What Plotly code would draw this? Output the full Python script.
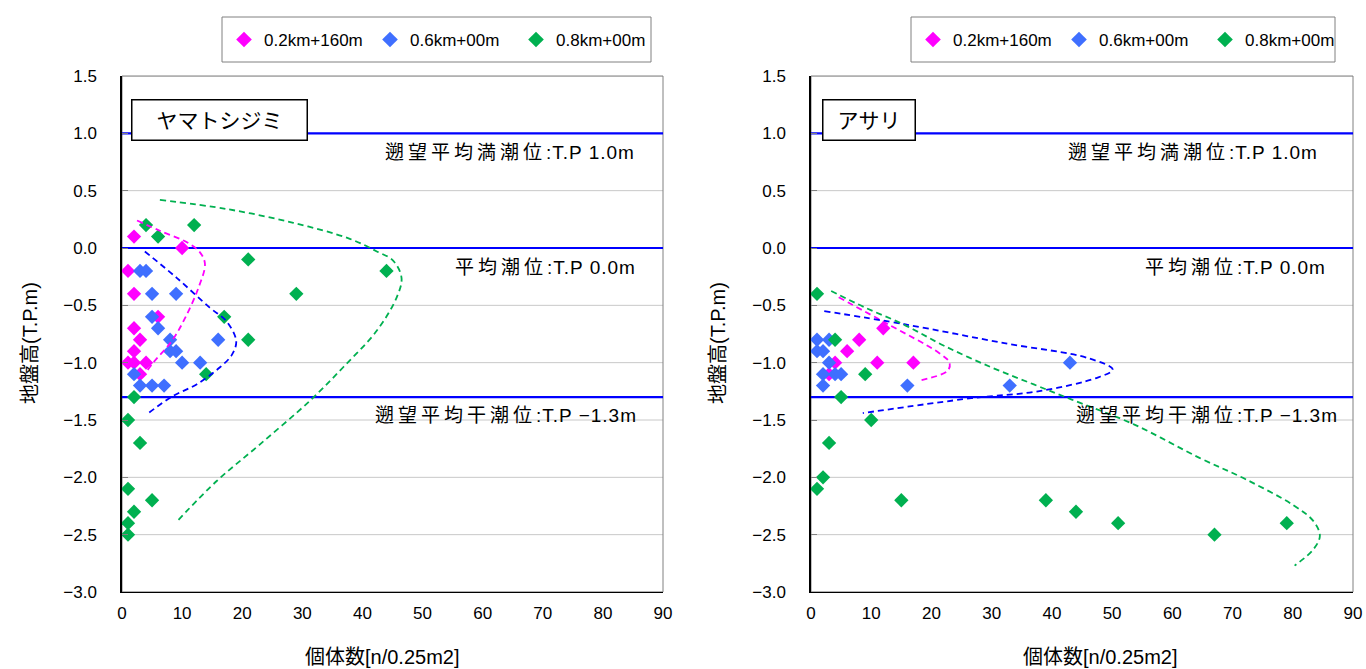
import plotly.graph_objects as go

# ---------------- data ----------------
SERIES = ["0.2km+160m", "0.6km+00m", "0.8km+00m"]
MARKER_COLORS = ["#FF00FF", "#3F6FFF", "#00B050"]
CURVE_COLORS = ["#FF00FF", "#0000FF", "#00B050"]

# Left panel: ヤマトシジミ
L_PINK_X = [2, 10, 1, 2, 6, 2, 3, 2, 1, 2, 4, 3]
L_PINK_Y = [0.1, 0.0, -0.2, -0.4, -0.6, -0.7, -0.8, -0.9, -1.0, -1.0, -1.0, -1.1]
L_BLUE_X = [3, 4, 5, 9, 5, 6, 8, 16, 8, 9, 10, 13, 2, 3, 5, 7]
L_BLUE_Y = [-0.2, -0.2, -0.4, -0.4, -0.6, -0.7, -0.8, -0.8, -0.9, -0.9, -1.0, -1.0, -1.1, -1.2, -1.2, -1.2]
L_GREEN_X = [4, 12, 6, 21, 44, 29, 17, 21, 14, 2, 1, 3, 1, 5, 2, 1, 1]
L_GREEN_Y = [0.2, 0.2, 0.1, -0.1, -0.2, -0.4, -0.6, -0.8, -1.1, -1.3, -1.5, -1.7, -2.1, -2.2, -2.3, -2.4, -2.5]

L_PINK_CX = [2.5, 6.3, 10.8, 13.0, 13.8, 12.7, 10.5, 8.3, 5.2, 3.3]
L_PINK_CY = [0.24, 0.15, 0.05, -0.04, -0.14, -0.35, -0.61, -0.81, -1.0, -1.13]
L_BLUE_CX = [3.8, 9.1, 14.6, 17.4, 19.0, 18.3, 16.3, 12.4, 8.5, 4.4]
L_BLUE_CY = [-0.03, -0.26, -0.52, -0.64, -0.81, -0.93, -1.04, -1.19, -1.29, -1.44]
L_GREEN_CX = [6.3, 17.4, 28.5, 37.9, 42.4, 45.1, 46.5, 45.7, 42.4, 36.8, 31.3, 23.0, 15.8, 9.4]
L_GREEN_CY = [0.42, 0.34, 0.22, 0.08, -0.03, -0.11, -0.26, -0.43, -0.72, -1.04, -1.33, -1.71, -2.03, -2.37]

# Right panel: アサリ
R_PINK_X = [12, 8, 6, 4, 11, 17, 3]
R_PINK_Y = [-0.7, -0.8, -0.9, -1.0, -1.0, -1.0, -1.1]
R_BLUE_X = [1, 3, 1, 2, 3, 43, 2, 4, 5, 2, 16, 33]
R_BLUE_Y = [-0.8, -0.8, -0.9, -0.9, -1.0, -1.0, -1.1, -1.1, -1.1, -1.2, -1.2, -1.2]
R_GREEN_X = [1, 4, 9, 5, 10, 3, 2, 1, 15, 39, 44, 51, 79, 67]
R_GREEN_Y = [-0.4, -0.8, -1.1, -1.3, -1.5, -1.7, -2.0, -2.1, -2.2, -2.2, -2.3, -2.4, -2.4, -2.5]

R_PINK_CX = [4.6, 12.8, 21.1, 23.0, 22.7, 17.7]
R_PINK_CY = [-0.43, -0.665, -0.91, -1.0, -1.07, -1.16]
R_BLUE_CX = [2.2, 15.5, 32.1, 46.0, 50.1, 47.6, 37.7, 26.6, 8.6]
R_BLUE_CY = [-0.55, -0.665, -0.83, -0.96, -1.06, -1.13, -1.25, -1.31, -1.44]
R_GREEN_CX = [3.35, 9.0, 15.5, 22.0, 29.9, 37.0, 43.2, 53.7, 64.5, 72.3, 80.0, 83.4, 84.5, 83.4, 80.3]
R_GREEN_CY = [-0.375, -0.52, -0.67, -0.85, -1.04, -1.19, -1.32, -1.54, -1.83, -2.02, -2.24, -2.38, -2.51, -2.63, -2.77]

REF_LEVELS = [1.0, 0.0, -1.3]
REF_NAMES = ["遡望平均満潮位", "平均潮位", "遡望平均干潮位"]
REF_VALUES = [":T.P 1.0m", ":T.P 0.0m", ":T.P −1.3m"]
PANEL_TITLES = ["ヤマトシジミ", "アサリ"]
X_TITLE = "個体数[n/0.25m2]"
Y_TITLE = "地盤高(T.P.m)"
X_TICKS = [0, 10, 20, 30, 40, 50, 60, 70, 80, 90]
Y_TICKS = [1.5, 1.0, 0.5, 0.0, -0.5, -1.0, -1.5, -2.0, -2.5, -3.0]

FONT = "Liberation Sans, Arial, Noto Sans CJK JP, sans-serif"
W, H = 1366, 669

fig = go.Figure()

panels = [
    dict(xa="x", ya="y", legend="legend",
         pts=[(L_PINK_X, L_PINK_Y), (L_BLUE_X, L_BLUE_Y), (L_GREEN_X, L_GREEN_Y)],
         crv=[(L_PINK_CX, L_PINK_CY), (L_BLUE_CX, L_BLUE_CY), (L_GREEN_CX, L_GREEN_CY)]),
    dict(xa="x2", ya="y2", legend="legend2",
         pts=[(R_PINK_X, R_PINK_Y), (R_BLUE_X, R_BLUE_Y), (R_GREEN_X, R_GREEN_Y)],
         crv=[(R_PINK_CX, R_PINK_CY), (R_BLUE_CX, R_BLUE_CY), (R_GREEN_CX, R_GREEN_CY)]),
]

for p in panels:
    for i, (xs, ys) in enumerate(p["pts"]):
        fig.add_trace(go.Scatter(
            x=xs, y=ys, mode="markers", name=SERIES[i],
            marker=dict(symbol="diamond", size=11, color=MARKER_COLORS[i]),
            xaxis=p["xa"], yaxis=p["ya"], legend=p["legend"], hoverinfo="skip"))
    for i, (xs, ys) in enumerate(p["crv"]):
        fig.add_trace(go.Scatter(
            x=xs, y=ys, mode="lines", showlegend=False,
            line=dict(color=CURVE_COLORS[i], width=1.8, dash="6px,4px", shape="spline", smoothing=1.0),
            xaxis=p["xa"], yaxis=p["ya"], hoverinfo="skip"))

ydom = [1 - 592 / H, 1 - 76 / H]
xdom1 = [122 / W, 663 / W]
xdom2 = [811 / W, 1353 / W]

def xax(dom, anchor):
    return dict(domain=dom, range=[0, 90], tickvals=X_TICKS, showgrid=False, zeroline=False,
                showline=True, linecolor="#000000", linewidth=1, ticks="", anchor=anchor,
                tickfont=dict(size=17, color="#000", family=FONT), ticklabelstandoff=6,
                fixedrange=True, automargin=False)

def yax(anchor):
    return dict(domain=ydom, range=[-3.0, 1.5], tickvals=Y_TICKS, tickformat=".1f",
                showgrid=False, zeroline=False,
                showline=True, linecolor="#000000", linewidth=1.5,
                ticks="inside", ticklen=6, tickcolor="#808080", anchor=anchor,
                tickfont=dict(size=17, color="#000", family=FONT), ticklabelstandoff=20,
                fixedrange=True, automargin=False)

shapes = []
annotations = []
for xa, ya in [("x", "y"), ("x2", "y2")]:
    # gridlines (drawn as shapes so the reference lines can sit on top of them)
    for t in Y_TICKS:
        shapes.append(dict(type="line", xref=xa + " domain", yref=ya, x0=0, x1=1, y0=t, y1=t,
                           line=dict(color="#C8C8C8", width=1), layer="below"))
    # frame
    shapes.append(dict(type="rect", xref=xa + " domain", yref=ya + " domain", x0=0, x1=1, y0=0, y1=1,
                       line=dict(color="#808080", width=1), layer="below"))
    for lv in REF_LEVELS:
        shapes.append(dict(type="line", xref=xa + " domain", yref=ya, x0=0, x1=1, y0=lv, y1=lv,
                           line=dict(color="#0000FF", width=2.2), layer="below"))

# legend frames
for lx0, lx1 in [(222, 651), (911, 1335)]:
    shapes.append(dict(type="rect", xref="paper", yref="paper", x0=lx0 / W, x1=lx1 / W,
                       y0=1 - 62 / H, y1=1 - 17 / H, line=dict(color="#808080", width=1),
                       fillcolor="rgba(0,0,0,0)", layer="above"))

# reference level labels (right-aligned)
L_LABEL_X = [85.6, 85.8, 86.0]
R_LABEL_X = [84.6, 85.9, 87.9]
LABEL_Y = [0.83, -0.17, -1.46]
for xa, ya, lx in [("x", "y", L_LABEL_X), ("x2", "y2", R_LABEL_X)]:
    for k in range(3):
        txt = ('<span style="letter-spacing:4px">' + REF_NAMES[k] + '</span>'
               '<span style="letter-spacing:1px">' + REF_VALUES[k] + '</span>')
        annotations.append(dict(xref=xa, yref=ya, x=lx[k], y=LABEL_Y[k], text=txt,
                                showarrow=False, xanchor="right", yanchor="middle",
                                font=dict(size=19, color="#000", family=FONT)))

# panel titles
annotations.append(dict(xref="paper", yref="paper", x=131 / W, y=1 - 99 / H, xanchor="left", yanchor="top",
                        text=PANEL_TITLES[0], showarrow=False, width=172, height=37,
                        bgcolor="#FFFFFF", bordercolor="#000000", borderwidth=1.5,
                        font=dict(size=21, color="#000", family=FONT)))
annotations.append(dict(xref="paper", yref="paper", x=822 / W, y=1 - 99 / H, xanchor="left", yanchor="top",
                        text=PANEL_TITLES[1], showarrow=False, width=89, height=37,
                        bgcolor="#FFFFFF", bordercolor="#000000", borderwidth=1.5,
                        font=dict(size=21, color="#000", family=FONT)))

# axis titles
for cx in [382, 1100]:
    annotations.append(dict(xref="paper", yref="paper", x=cx / W, y=1 - 657 / H, xanchor="center",
                            yanchor="middle", text=X_TITLE, showarrow=False,
                            font=dict(size=20, color="#000", family=FONT)))
for cx in [30, 718]:
    annotations.append(dict(xref="paper", yref="paper", x=cx / W, y=1 - 343 / H, xanchor="center",
                            yanchor="middle", text=Y_TITLE, showarrow=False, textangle=-90,
                            font=dict(size=20, color="#000", family=FONT)))

legend_common = dict(orientation="h", xanchor="left", yanchor="middle", bgcolor="rgba(0,0,0,0)",
                     borderwidth=0, font=dict(size=17, color="#000", family=FONT),
                     entrywidth=101, entrywidthmode="pixels", itemsizing="constant",
                     tracegroupgap=0, itemwidth=30)

fig.update_layout(
    width=W, height=H, margin=dict(l=0, r=0, t=0, b=0, autoexpand=False),
    paper_bgcolor="#FFFFFF", plot_bgcolor="#FFFFFF",
    font=dict(family=FONT, color="#000"),
    xaxis=xax(xdom1, "y"), yaxis=yax("x"),
    xaxis2=xax(xdom2, "y2"), yaxis2=yax("x2"),
    legend=dict(x=224 / W, y=1 - 40 / H, **legend_common),
    legend2=dict(x=913 / W, y=1 - 40 / H, **legend_common),
    shapes=shapes, annotations=annotations,
    hovermode=False,
)

fig.write_html("out.html")
